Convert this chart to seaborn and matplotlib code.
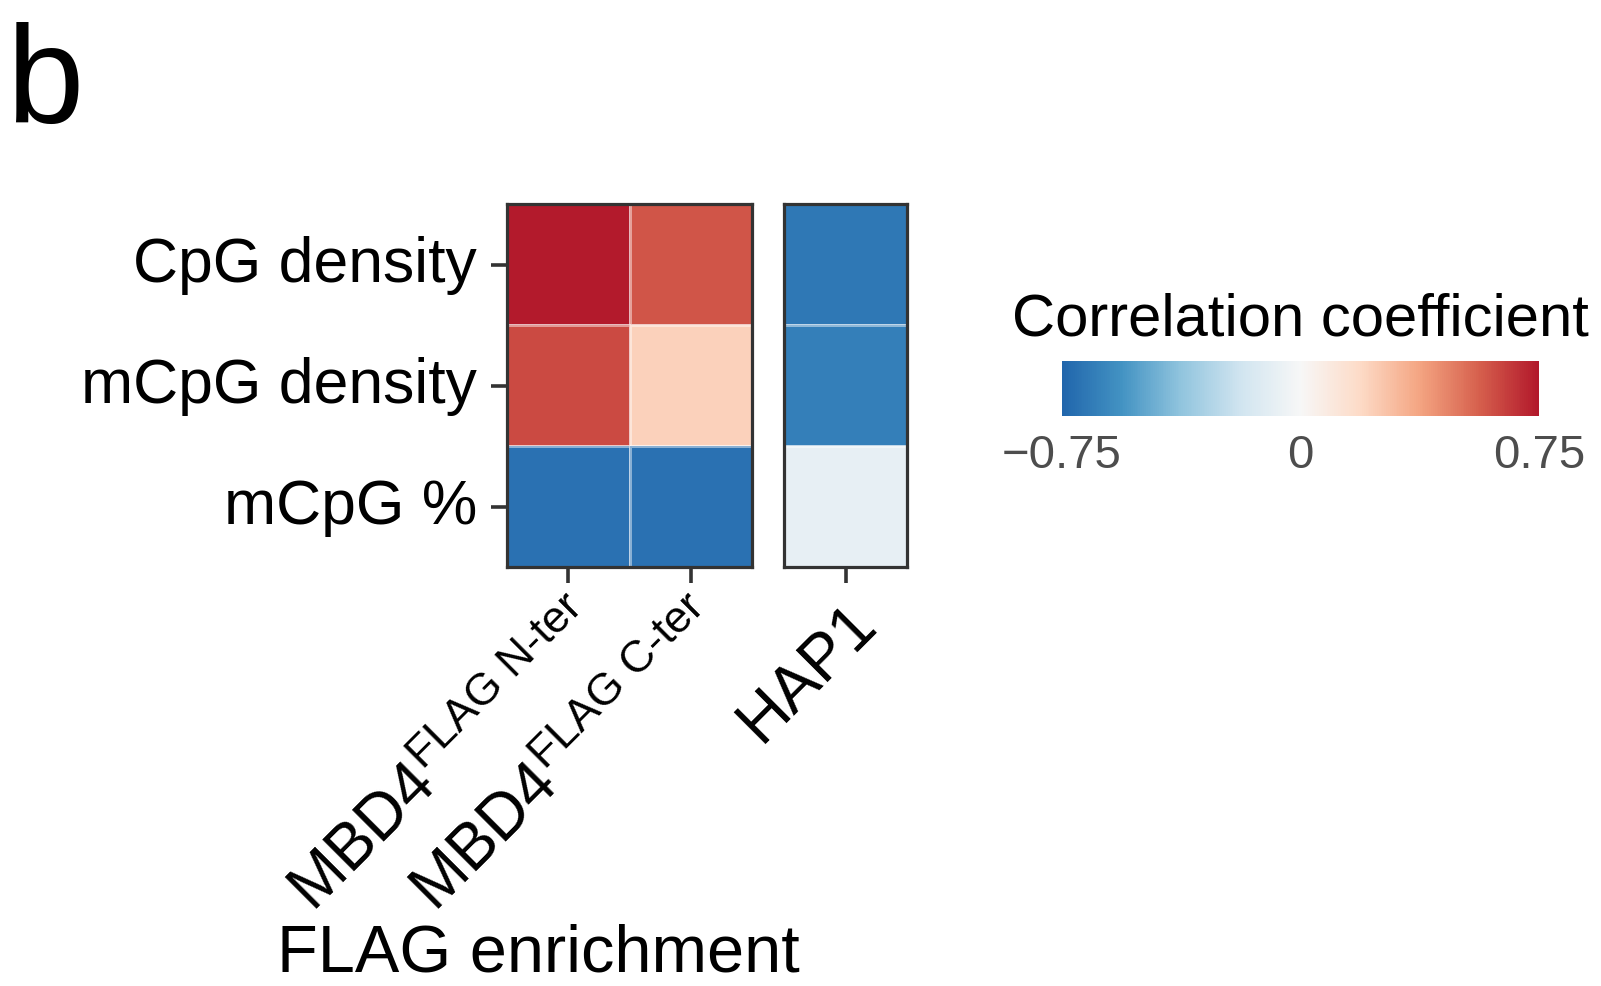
import matplotlib
matplotlib.use("Agg")
import matplotlib.pyplot as plt
from matplotlib.colors import LinearSegmentedColormap, Normalize
from matplotlib.cm import ScalarMappable
import numpy as np
import pandas as pd
import seaborn as sns

# Correlation of ChIP enrichment with CpG features
features = ["CpG density", "mCpG density", "mCpG %"]
flag_samples = ["MBD4$^{\\mathrm{FLAG\\ N\u2010ter}}$", "MBD4$^{\\mathrm{FLAG\\ C\u2010ter}}$"]
hap1_samples = ["HAP1"]
nter_corr = [0.74, 0.62, -0.70]
cter_corr = [0.59, 0.22, -0.70]
hap1_corr = [-0.67, -0.64, -0.08]

cbar_ticks = [-0.75, 0, 0.75]
cbar_ticklabels = ["\u22120.75", "0", "0.75"]
vmin, vmax = -0.75, 0.75

sns.set_style("white")
plt.rcParams["font.family"] = ["Liberation Sans", "DejaVu Sans"]
plt.rcParams["mathtext.fontset"] = "custom"
plt.rcParams["mathtext.rm"] = "Liberation Sans"
plt.rcParams["mathtext.it"] = "Liberation Sans:italic"
plt.rcParams["mathtext.bf"] = "Liberation Sans:bold"

palette = ["#2166ac", "#4393c3", "#92c5de", "#d1e5f0", "#f7f7f7",
           "#fddbc7", "#f4a582", "#d6604d", "#b2182b"]
cmap = LinearSegmentedColormap.from_list("rdbu9", palette)

flag_df = pd.DataFrame({flag_samples[0]: nter_corr, flag_samples[1]: cter_corr}, index=features)
hap1_df = pd.DataFrame({hap1_samples[0]: hap1_corr}, index=features)

W, H = 1601, 987
fig = plt.figure(figsize=(W / 100, H / 100), dpi=100)

def px_axes(x0, y0, x1, y1):
    return fig.add_axes([x0 / W, 1 - y1 / H, (x1 - x0) / W, (y1 - y0) / H])

ax1 = px_axes(507, 205, 752, 568)
ax2 = px_axes(784, 205, 907, 568)

frame_col = "#333333"
label_size = 45
for ax, df in ((ax1, flag_df), (ax2, hap1_df)):
    sns.heatmap(df, ax=ax, cmap=cmap, vmin=vmin, vmax=vmax, cbar=False,
                linewidths=0.8, linecolor=(1, 1, 1, 0.45), square=False)
    for sp in ax.spines.values():
        sp.set_visible(True)
        sp.set_color(frame_col)
        sp.set_linewidth(2.3)
    ax.tick_params(axis="both", direction="out", length=11.5, width=2.6,
                   color=frame_col, labelsize=label_size)
    ax.set_xlabel("")
    ax.set_ylabel("")
    for lab in ax.get_xticklabels():
        lab.set_rotation(45)
        lab.set_ha("right")
        lab.set_va("top")
        lab.set_rotation_mode("anchor")
        lab.set_fontsize(46)
        lab.set_color("black")

ax1.tick_params(axis="y", left=True, pad=10)
for lab in ax1.get_yticklabels():
    lab.set_rotation(0)
    lab.set_fontsize(label_size)
    lab.set_color("black")
ax2.set_yticks([])
ax1.tick_params(axis="x", bottom=True, pad=6)
ax2.tick_params(axis="x", bottom=True, pad=6)

# colour bar
cax = px_axes(1062, 362, 1539, 417)
sm = ScalarMappable(norm=Normalize(vmin, vmax), cmap=cmap)
cb = fig.colorbar(sm, cax=cax, orientation="horizontal", ticks=cbar_ticks)
cb.outline.set_visible(False)
cb.ax.set_xticklabels(cbar_ticklabels)
cb.ax.tick_params(length=0, pad=12, labelsize=34, labelcolor="#4d4d4d")
fig.text(1300 / W, 1 - 335 / H, "Correlation coefficient", ha="center",
         va="baseline", fontsize=43, color="black")

fig.text(538 / W, 1 - 972 / H, "FLAG enrichment", ha="center", va="baseline",
         fontsize=48, color="black")
fig.text(6 / W, 1 - 123 / H, "b", ha="left", va="baseline", fontsize=100,
         color="black")

fig.savefig("out.png", dpi=100, facecolor="white")
